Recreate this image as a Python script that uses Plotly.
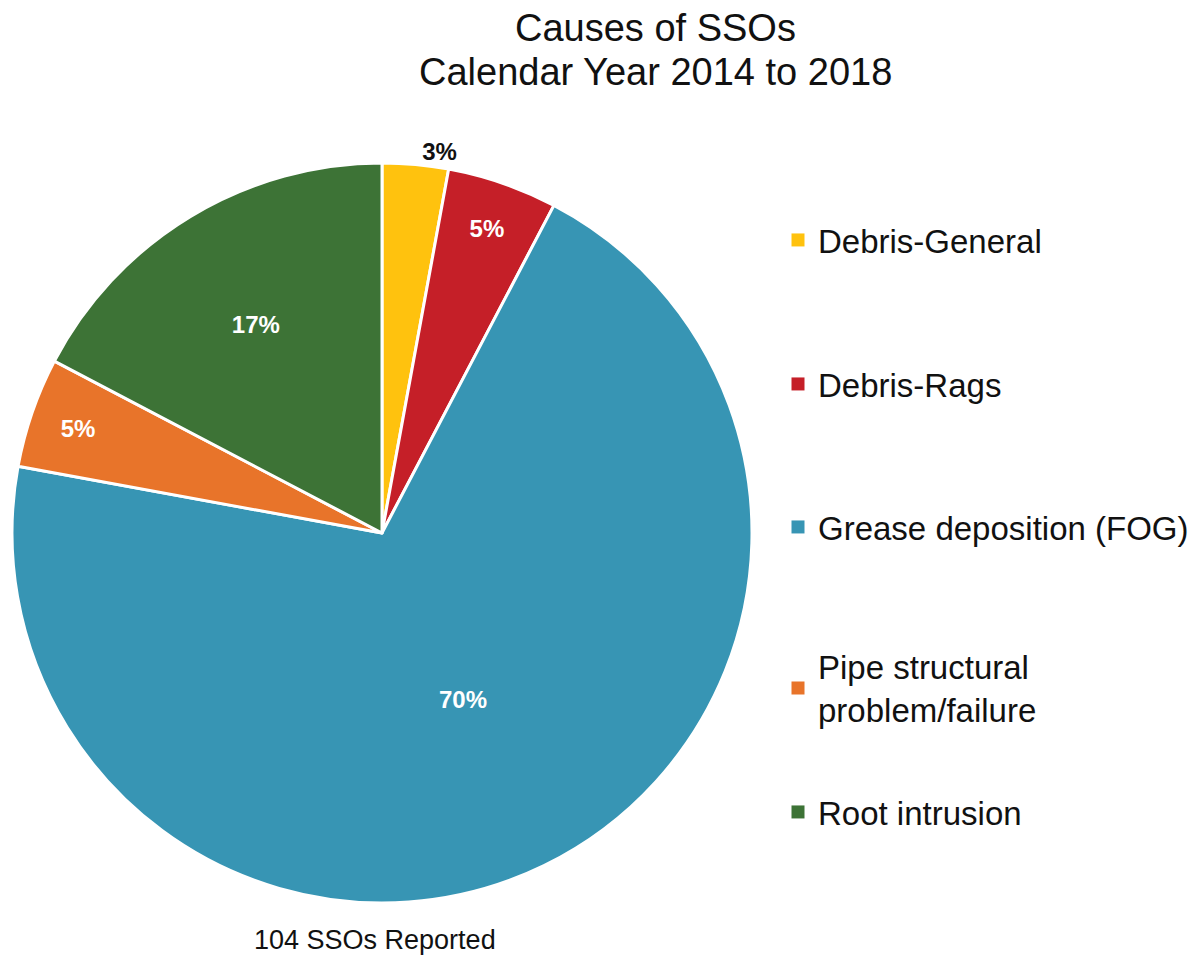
import plotly.graph_objects as go

categories = ["Debris-General", "Debris-Rags", "Grease deposition (FOG)",
              "Pipe structural problem/failure", "Root intrusion"]
legend_labels = ["Debris-General", "Debris-Rags", "Grease deposition (FOG)",
                 "Pipe structural<br>problem/failure", "Root intrusion"]
counts = [3, 5, 73, 5, 18]
colors = ["#FFC20E", "#C51F28", "#3795B4", "#E8742A", "#3D7336"]
title_lines = ["Causes of SSOs", "Calendar Year 2014 to 2018"]
footer = f"{sum(counts)} SSOs Reported"

W, H = 1195, 958
FONT = "Liberation Sans, Arial, sans-serif"

fig = go.Figure()
fig.add_trace(go.Pie(
    labels=categories,
    values=counts,
    sort=False,
    direction="clockwise",
    rotation=0,
    marker=dict(colors=colors, line=dict(color="white", width=3)),
    texttemplate="%{percent:.0%}",
    textposition=["outside", "inside", "inside", "inside", "inside"],
    insidetextorientation="horizontal",
    insidetextfont=dict(family=FONT, size=24, color="white", weight="bold"),
    outsidetextfont=dict(family=FONT, size=24, color="#111111", weight="bold"),
    showlegend=False,
    hoverinfo="label+value+percent",
    domain=dict(x=[12 / W, 752 / W], y=[1 - 903 / H, 1 - 163 / H]),
))

# legend entries (one legend per entry so they are evenly distributed like the original)
legend_y_px = [240, 384, 527, 688, 812]
legend_names = ["legend", "legend2", "legend3", "legend4", "legend5"]
for lab, col, lname in zip(legend_labels, colors, legend_names):
    fig.add_trace(go.Scatter(
        x=[None], y=[None], mode="markers", name=lab,
        marker=dict(symbol="square", size=13, color=col),
        legend=lname, showlegend=True, hoverinfo="skip",
    ))

layout_legends = {}
for lname, ypx in zip(legend_names, legend_y_px):
    layout_legends[lname] = dict(
        x=778 / W, xanchor="left", y=1 - ypx / H, yanchor="middle",
        font=dict(family=FONT, size=33, color="#111111"),
        bgcolor="rgba(0,0,0,0)", itemwidth=30, valign="middle",
    )

title_y_px = [28, 72]
annotations = [
    dict(text=line, x=656 / W, y=1 - ypx / H,
         xref="paper", yref="paper", xanchor="center", yanchor="middle",
         showarrow=False, font=dict(family=FONT, size=38, color="#111111"))
    for line, ypx in zip(title_lines, title_y_px)
]
annotations.append(
    dict(text=footer, x=375 / W, y=1 - 940 / H,
         xref="paper", yref="paper", xanchor="center", yanchor="middle",
         showarrow=False, font=dict(family=FONT, size=27, color="#111111"))
)

fig.update_layout(
    width=W, height=H,
    margin=dict(l=0, r=0, t=0, b=0),
    paper_bgcolor="white", plot_bgcolor="white",
    xaxis=dict(visible=False), yaxis=dict(visible=False),
    uniformtext=dict(minsize=24, mode="show"),
    annotations=annotations,
    **layout_legends,
)

fig.write_html("out.html")
